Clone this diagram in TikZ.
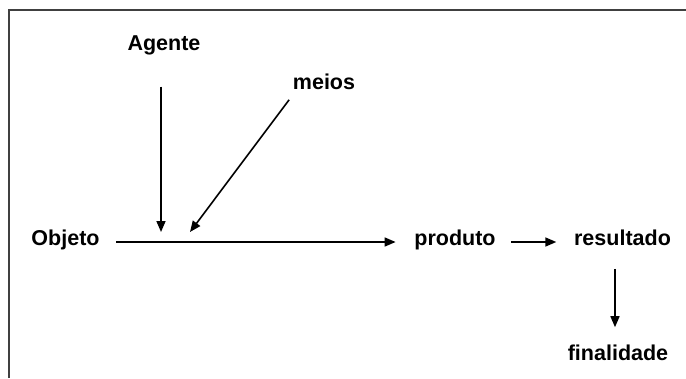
\documentclass[tikz,border=0pt]{standalone}
\usepackage{fontspec}
\setmainfont{Liberation Sans}
\usetikzlibrary{arrows.meta}

\begin{document}
\begin{tikzpicture}[x=1pt,y=-1pt,line width=1.6pt,
    lbl/.style={anchor=base,inner sep=0pt,text height=12pt,text depth=6pt,
      font=\fontsize{21.5}{26}\selectfont\bfseries},
    arr/.style={-{Triangle[length=11pt,width=9pt]}}]
\definecolor{framegray}{rgb}{0.25,0.25,0.25}
  \useasboundingbox (0,0) rectangle (686,378);

  % frame, cut off right and below
  \draw[framegray,line width=1.8pt] (9,378) -- (9,9.7) -- (686,9.7);

  \node[lbl] (ag) at (164,50.7) {Agente};
  \node[lbl] (me) at (324,89)   {meios};
  \node[lbl] (ob) at (65.5,245) {Objeto};
  \node[lbl] (pr) at (455,245)  {produto};
  \node[lbl] (re) at (622.5,245) {resultado};
  \node[lbl] (fi) at (618,360)  {finalidade};

  % where agent and means meet the main line
  \coordinate (ja) at (161,232);
  \coordinate (jm) at (190,232);

  \draw[arr,shorten <=16pt,shorten >=18pt] (ob.east) -- (pr.west);
  \draw[arr,shorten <=29pt] (ag.south -| ja) -- (ja);
  \draw[arr,shorten <=5pt] (me.south west) -- (jm);
  \draw[arr,shorten <=15pt,shorten >=17pt] (pr.east) -- (re.west);
  \draw[arr,shorten <=17pt,shorten >=20pt]
    ([xshift=-7.5pt]re.south) -- ([xshift=-3pt]fi.north);

\end{tikzpicture}
\end{document}
